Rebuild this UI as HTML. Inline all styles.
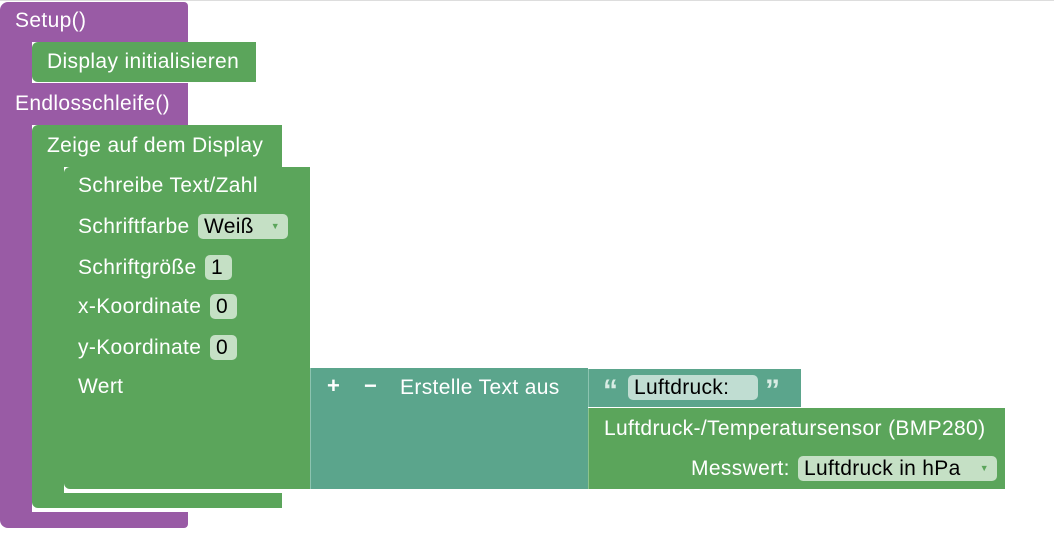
<!DOCTYPE html>
<html><head><meta charset="utf-8"><style>
body{margin:0;width:1054px;height:559px;background:#fff;position:relative;overflow:hidden;font-family:"Liberation Sans",sans-serif;}
.b{position:absolute;}
.p{background:#995ba5;}
.g{background:#5ba55b;}
.t{background:#5ba58c;}
.tx{position:absolute;color:#fff;font-size:21px;letter-spacing:0.35px;white-space:nowrap;line-height:22px;}
.f{position:absolute;background:#c5e0c5;color:#000;font-size:21px;letter-spacing:0.3px;line-height:25px;border-radius:5px;padding-left:6px;box-sizing:border-box;height:25px;white-space:nowrap;}
.ft{background:#c0ddd2;}
.arr{position:absolute;right:8px;top:0;font-size:9px;color:#5ba55b;}
</style></head><body>
<div class="b" style="left:0;top:0;width:1054px;height:1px;background:#ddd"></div>
<div class="b p" style="left:0;top:2px;width:188px;height:526px;border-radius:8px 4px 4px 8px;"></div>
<div class="b" style="left:32px;top:42px;width:156px;height:41px;background:#fff"></div>
<div class="b" style="left:32px;top:125px;width:156px;height:387px;background:#fff"></div>
<div class="tx" style="left:15px;top:10px">Setup()</div>
<div class="tx" style="left:15px;top:93px">Endlosschleife()</div>
<div class="b g" style="left:32px;top:42px;width:224px;height:40px;border-radius:6px 0 0 6px"></div>
<div class="tx" style="left:47px;top:51px">Display initialisieren</div>
<div class="b g" style="left:32px;top:125px;width:250px;height:383px;border-radius:6px 0 0 6px"></div>
<div class="b" style="left:64px;top:167px;width:218px;height:326px;background:#fff"></div>
<div class="tx" style="left:47px;top:135px">Zeige auf dem Display</div>
<div class="b g" style="left:64px;top:167px;width:246px;height:322px;border-radius:6px 0 0 6px"></div>
<div class="tx" style="left:78px;top:175px">Schreibe Text/Zahl</div>
<div class="tx" style="left:78px;top:216px">Schriftfarbe</div>
<div class="f" style="left:198px;top:214px;width:90px">Weiß<span class="arr">▼</span></div>
<div class="tx" style="left:78px;top:257px">Schriftgröße</div>
<div class="f" style="left:205px;top:255px;width:27px">1</div>
<div class="tx" style="left:78px;top:296px">x-Koordinate</div>
<div class="f" style="left:210px;top:294px;width:27px">0</div>
<div class="tx" style="left:78px;top:337px">y-Koordinate</div>
<div class="f" style="left:210px;top:335px;width:27px">0</div>
<div class="tx" style="left:78px;top:376px">Wert</div>
<div class="b t" style="left:310px;top:368px;width:278px;height:121px;border-left:1px solid #8cc4b0;box-sizing:border-box"></div>
<div class="tx" style="left:327px;top:375px;font-weight:bold;font-size:22px">+</div>
<div class="tx" style="left:364px;top:375px;font-weight:bold;font-size:22px">−</div>
<div class="tx" style="left:400px;top:377px">Erstelle Text aus</div>
<div class="b t" style="left:588px;top:369px;width:213px;height:38px;border-left:1px solid #8cc4b0;box-sizing:border-box"></div>
<div class="tx" style="left:603px;top:376px;font-weight:bold;font-size:30px;line-height:30px;color:#d8ece4">“</div>
<div class="f ft" style="left:628px;top:375px;width:130px">Luftdruck:</div>
<div class="tx" style="left:765px;top:376px;font-weight:bold;font-size:30px;line-height:30px;color:#d8ece4">”</div>
<div class="b g" style="left:588px;top:408px;width:417px;height:81px;border-left:1px solid #8cc48c;box-sizing:border-box"></div>
<div class="tx" style="left:604px;top:418px">Luftdruck-/Temperatursensor (BMP280)</div>
<div class="tx" style="left:691px;top:458px">Messwert:</div>
<div class="f" style="left:798px;top:456px;width:199px">Luftdruck in hPa<span class="arr">▼</span></div>
</body></html>
